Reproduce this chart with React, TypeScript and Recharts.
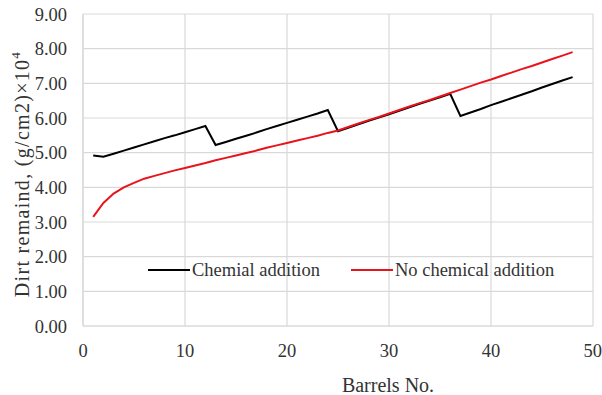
import React from 'react';
import { CartesianGrid, Legend, Line, LineChart, XAxis, YAxis } from 'recharts';

// barrel numbers 1..48
const BARRELS = [
  1, 2, 3, 4, 5, 6, 7, 8, 9, 10, 11, 12, 13, 14, 15, 16, 17, 18, 19, 20, 21, 22, 23, 24,
  25, 26, 27, 28, 29, 30, 31, 32, 33, 34, 35, 36, 37, 38, 39, 40, 41, 42, 43, 44, 45, 46, 47, 48,
];

const WITH_CHEMICAL = [
  4.92, 4.88, 4.97, 5.06, 5.15, 5.24, 5.33, 5.42, 5.5, 5.59, 5.68, 5.77,
  5.22, 5.31, 5.4, 5.49, 5.58, 5.68, 5.77, 5.86, 5.95, 6.04, 6.13, 6.23,
  5.62, 5.72, 5.82, 5.92, 6.01, 6.11, 6.21, 6.31, 6.41, 6.5, 6.6, 6.7,
  6.06, 6.16, 6.26, 6.37, 6.47, 6.57, 6.67, 6.77, 6.88, 6.98, 7.08, 7.18,
];

const NO_CHEMICAL = [
  3.15, 3.55, 3.82, 4.0, 4.13, 4.25, 4.33, 4.41, 4.49, 4.56, 4.63, 4.7,
  4.78, 4.85, 4.92, 4.99, 5.06, 5.14, 5.21, 5.28, 5.35, 5.42, 5.49, 5.57,
  5.64, 5.74, 5.84, 5.94, 6.03, 6.13, 6.23, 6.33, 6.43, 6.52, 6.62, 6.72,
  6.82, 6.92, 7.02, 7.11, 7.21, 7.31, 7.41, 7.5, 7.6, 7.7, 7.8, 7.9,
];

const X_TICKS = [0, 10, 20, 30, 40, 50];
const Y_TICKS = [0, 1, 2, 3, 4, 5, 6, 7, 8, 9];

const SERIES = [
  { key: 'chem', name: 'Chemial addition', color: '#000000' },
  { key: 'noChem', name: 'No chemical addition', color: '#e8141c' },
];

const data = BARRELS.map((b, i) => ({
  barrel: b,
  chem: WITH_CHEMICAL[i],
  noChem: NO_CHEMICAL[i],
}));

const FONT = '"Liberation Serif", "Times New Roman", serif';
const TEXT = '#333333';
const GRID = '#d9d9d9';

// legend: short line sample + label, laid out in one row
function LegendRow() {
  return (
    <div style={{ display: 'flex', fontFamily: FONT, fontSize: 18.5, color: TEXT, lineHeight: '22px' }}>
      {SERIES.map((s, i) => (
        <div
          key={s.key}
          style={{ display: 'flex', alignItems: 'center', marginRight: i === 0 ? 31 : 0 }}
        >
          <span
            style={{ display: 'inline-block', width: 42, height: 2, background: s.color, marginRight: 2 }}
          />
          <span>{s.name}</span>
        </div>
      ))}
    </div>
  );
}

function YLabel({ viewBox }: any) {
  const cx = 22;
  const cy = viewBox.y + viewBox.height / 2 + 4;
  return (
    <text
      x={cx}
      y={cy}
      transform={`rotate(-90, ${cx}, ${cy})`}
      textAnchor="middle"
      dominantBaseline="central"
      fontFamily={FONT}
      fontSize={20}
      letterSpacing={1.3}
      fill={TEXT}
    >
      Dirt remaind, (g/cm2)×10
      <tspan fontSize={13} dy={-7}>4</tspan>
    </text>
  );
}

export default function App() {
  return (
    <div style={{ position: 'absolute', left: 0, top: 0, background: '#fff' }}>
      <LineChart
        width={602}
        height={395}
        data={data}
        margin={{ top: 14, right: 9, left: 0, bottom: 0 }}
      >
        <CartesianGrid stroke={GRID} strokeWidth={1.2} />
        <XAxis
          dataKey="barrel"
          type="number"
          domain={[0, 50]}
          ticks={X_TICKS}
          height={69}
          tickLine={false}
          axisLine={{ stroke: GRID, strokeWidth: 1.2 }}
          tickMargin={12}
          tick={{ fontSize: 18.5, fill: TEXT, fontFamily: FONT }}
          label={{
            value: 'Barrels No.',
            position: 'insideBottom',
            offset: 3,
            dx: 50,
            fontSize: 20,
            fill: TEXT,
            fontFamily: FONT,
          }}
        />
        <YAxis
          type="number"
          domain={[0, 9]}
          ticks={Y_TICKS}
          width={83}
          tickLine={false}
          axisLine={{ stroke: GRID, strokeWidth: 1.2 }}
          tickMargin={10}
          tickFormatter={(v) => Number(v).toFixed(2)}
          tick={{ fontSize: 18.5, fill: TEXT, fontFamily: FONT }}
          label={<YLabel />}
        />
        <Legend
          content={<LegendRow />}
          verticalAlign="middle"
          wrapperStyle={{ position: 'absolute', left: 148, top: 259, width: 'auto' }}
        />
        {SERIES.map((s) => (
          <Line
            key={s.key}
            dataKey={s.key}
            name={s.name}
            stroke={s.color}
            strokeWidth={2}
            dot={false}
            type="linear"
            isAnimationActive={false}
          />
        ))}
      </LineChart>
    </div>
  );
}
